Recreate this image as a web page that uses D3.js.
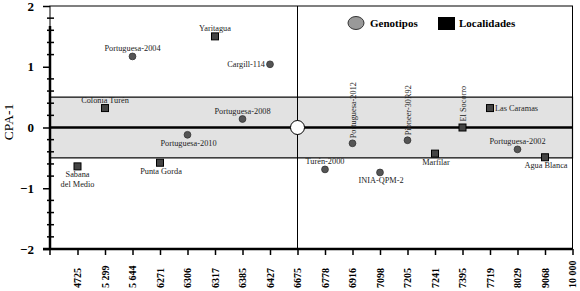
<!DOCTYPE html>
<html>
<head>
<meta charset="utf-8">
<script src="https://cdn.jsdelivr.net/npm/d3@7"></script>
<style>
  body { margin: 0; background: #fff; }
  svg { display: block; font-family: "Liberation Serif", "DejaVu Serif", serif; }
</style>
</head>
<body>
<div id="chart"></div>
<script>
// x categories (tick labels, in order)
const xTicks = ["4725", "5 299", "5 644", "6271", "6306", "6317", "6385", "6427", "6675",
                "6778", "6916", "7098", "7205", "7241", "7395", "7719", "8029", "9068", "10 000"];

// genotypes (circles)
const genoNames = ["Portuguesa-2004", "Cargill-114", "Portuguesa-2008", "Portuguesa-2010", "Portuguesa-2012",
                   "Pioneer-30R92", "Portuguesa-2002", "INIA-QPM-2", "Turén-2000"];
const genoX = ["5 644", "6427", "6385", "6306", "6916", "7205", "8029", "7098", "6778"];
const genoY = [1.17, 1.04, 0.14, -0.12, -0.26, -0.21, -0.36, -0.74, -0.69];

// localities (squares)
const locNames = ["Yaritagua", "Colonia Turén", "El Socorro", "Las Caramas", "Agua Blanca",
                  "Marfilar", "Punta Gorda", "Sabana del Medio"];
const locX = ["6317", "5 299", "7395", "7719", "9068", "7241", "6271", "4725"];
const locY = [1.50, 0.32, 0.0, 0.32, -0.49, -0.43, -0.58, -0.64];

// origin marker
const originX = "6675", originY = 0;

// label placement (style)
const labelSide = {
  "Portuguesa-2004": "above", "Cargill-114": "left", "Portuguesa-2008": "above",
  "Portuguesa-2010": "below", "Portuguesa-2012": "up", "Pioneer-30R92": "up",
  "Portuguesa-2002": "above", "INIA-QPM-2": "below", "Turén-2000": "above",
  "Yaritagua": "above", "Colonia Turén": "above", "El Socorro": "up",
  "Las Caramas": "right", "Agua Blanca": "below", "Marfilar": "below",
  "Punta Gorda": "below", "Sabana del Medio": "below2"
};

const W = 580, H = 291;
const pLeft = 50, pRight = 572.5, pTop = 6, pBottom = 249;

const svg = d3.select("#chart").append("svg").attr("width", W).attr("height", H);

const x = d3.scalePoint().domain(xTicks).range([77.5, pRight]);
const y = d3.scaleLinear().domain([-2, 2]).range([pBottom, pTop]);

// gray band
svg.append("rect").attr("x", pLeft).attr("y", y(0.5)).attr("width", pRight - pLeft)
  .attr("height", y(-0.5) - y(0.5)).attr("fill", "#e2e2e2")
  .attr("stroke", "#000").attr("stroke-width", 1.2);

// frame
svg.append("rect").attr("x", pLeft).attr("y", pTop).attr("width", pRight - pLeft)
  .attr("height", pBottom - pTop).attr("fill", "none").attr("stroke", "#000").attr("stroke-width", 1);

// vertical line at origin
svg.append("line").attr("x1", x(originX)).attr("x2", x(originX)).attr("y1", pTop).attr("y2", pBottom)
  .attr("stroke", "#000").attr("stroke-width", 1);

// zero line
svg.append("line").attr("x1", pLeft).attr("x2", pRight).attr("y1", y(0)).attr("y2", y(0))
  .attr("stroke", "#000").attr("stroke-width", 2.5);

// y axis
const yAxis = svg.append("g").attr("transform", `translate(${pLeft},0)`)
  .call(d3.axisLeft(y).tickValues([-2, -1, 0, 1, 2]).tickSize(7).tickPadding(9).tickFormat(d3.format("d")));
yAxis.select(".domain").remove();
yAxis.selectAll("line").attr("stroke", "#000").attr("stroke-width", 1.5);
yAxis.selectAll("text").attr("font-size", 13).attr("font-weight", "bold")
  .attr("font-family", "Liberation Serif").attr("fill", "#000");
svg.append("line").attr("x1", pLeft).attr("x2", pLeft).attr("y1", 26).attr("y2", pBottom)
  .attr("stroke", "#000").attr("stroke-width", 2.5);
svg.selectAll(".minor").data(d3.range(-10, 11).filter(d => d % 5 !== 0).map(d => d / 5))
  .join("line").attr("class", "minor")
  .attr("x1", pLeft - 3).attr("x2", pLeft + 4).attr("y1", d => y(d)).attr("y2", d => y(d))
  .attr("stroke", "#000").attr("stroke-width", 1.5);

svg.append("text").attr("transform", `translate(13,122) rotate(-90)`)
  .attr("text-anchor", "middle").attr("font-size", 13.5).text("CPA-1");

// x axis
const xAxis = svg.append("g").attr("transform", `translate(0,${pBottom})`)
  .call(d3.axisBottom(x).tickSize(6).tickFormat(""));
xAxis.select(".domain").remove();
xAxis.selectAll("line").attr("stroke", "#000").attr("stroke-width", 1.5);
svg.append("line").attr("x1", 43).attr("x2", pRight).attr("y1", pBottom).attr("y2", pBottom)
  .attr("stroke", "#000").attr("stroke-width", 2.5);
svg.append("line").attr("x1", pLeft).attr("x2", pLeft).attr("y1", pBottom).attr("y2", pBottom + 6)
  .attr("stroke", "#000").attr("stroke-width", 1.5);
svg.selectAll(".xlab").data(xTicks).join("text").attr("class", "xlab")
  .attr("transform", d => `translate(${x(d) + 3.5},288) rotate(-90)`)
  .attr("font-size", 10).attr("font-weight", "bold").text(d => d);

// legend
svg.append("ellipse").attr("cx", 356).attr("cy", 23).attr("rx", 8).attr("ry", 6.5)
  .attr("fill", "#999").attr("stroke", "#333");
svg.append("text").attr("x", 370).attr("y", 27).attr("font-size", 11).attr("font-weight", "bold").text("Genotipos");
svg.append("rect").attr("x", 438).attr("y", 17).attr("width", 17).attr("height", 13).attr("fill", "#000");
svg.append("text").attr("x", 459).attr("y", 27).attr("font-size", 11).attr("font-weight", "bold").text("Localidades");

// points
const geno = genoNames.map((n, i) => ({ name: n, x: genoX[i], y: genoY[i], type: "g" }));
const loc = locNames.map((n, i) => ({ name: n, x: locX[i], y: locY[i], type: "l" }));

svg.selectAll(".geno").data(geno).join("circle").attr("class", "geno")
  .attr("cx", d => x(d.x)).attr("cy", d => y(d.y)).attr("r", 3.4)
  .attr("fill", "#555").attr("stroke", "#333").attr("stroke-width", 0.8);
svg.selectAll(".loc").data(loc).join("rect").attr("class", "loc")
  .attr("x", d => x(d.x) - 3.5).attr("y", d => y(d.y) - 3.5).attr("width", 7).attr("height", 7)
  .attr("fill", "#444").attr("stroke", "#000").attr("stroke-width", 1);

svg.append("circle").attr("cx", x(originX)).attr("cy", y(originY)).attr("r", 7)
  .attr("fill", "#fff").attr("stroke", "#000").attr("stroke-width", 1);

// labels
const labels = svg.append("g").attr("font-size", 8.3).attr("fill", "#222");
[...geno, ...loc].forEach(d => {
  const px = x(d.x), py = y(d.y), side = labelSide[d.name];
  if (side === "above") {
    labels.append("text").attr("x", px).attr("y", py - 5).attr("text-anchor", "middle").text(d.name);
  } else if (side === "below") {
    labels.append("text").attr("x", px + 1).attr("y", py + 11).attr("text-anchor", "middle").text(d.name);
  } else if (side === "below2") {
    const parts = d.name.split(" ");
    labels.append("text").attr("x", px).attr("y", py + 11).attr("text-anchor", "middle").text(parts[0]);
    labels.append("text").attr("x", px).attr("y", py + 21).attr("text-anchor", "middle").text(parts.slice(1).join(" "));
  } else if (side === "left") {
    labels.append("text").attr("x", px - 5).attr("y", py + 3).attr("text-anchor", "end").text(d.name);
  } else if (side === "right") {
    labels.append("text").attr("x", px + 5).attr("y", py + 3).text(d.name);
  } else if (side === "up") {
    labels.append("text").attr("transform", `translate(${px + 3},${py - (d.type === "g" ? 5 : 6)}) rotate(-90)`).text(d.name);
  }
});
</script>
</body>
</html>
